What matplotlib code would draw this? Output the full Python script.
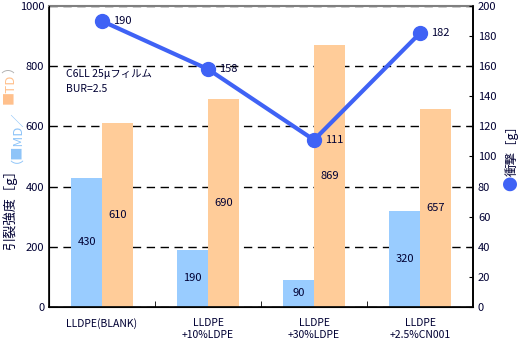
import numpy as np
import matplotlib
matplotlib.use('Agg')
import matplotlib.pyplot as plt

plt.rcParams['font.family'] = ['Noto Sans CJK JP', 'DejaVu Sans']

# data
categories = ['LLDPE(BLANK)', 'LLDPE\n+10%LDPE', 'LLDPE\n+30%LDPE', 'LLDPE\n+2.5%CN001']
md_values = [430, 190, 90, 320]
td_values = [610, 690, 869, 657]
impact_values = [190, 158, 111, 182]

md_color = '#99CCFF'
td_color = '#FFCC99'
line_color = '#3F62F5'
text_color = '#000033'

fig = plt.figure(figsize=(5.22, 3.44), dpi=100)
ax = fig.add_axes([0.0939, 0.1076, 0.8123, 0.875])

x = np.arange(len(categories))
w = 0.29
ax.set_axisbelow(True)
ax.bar(x - w / 2, md_values, w, color=md_color, zorder=2)
ax.bar(x + w / 2, td_values, w, color=td_color, zorder=2)

for xi, v in zip(x, md_values):
    ax.text(xi - w / 2, v / 2, str(v), ha='center', va='center', fontsize=8, color=text_color, zorder=3)
for xi, v in zip(x, td_values):
    ax.text(xi + w / 2, v / 2, str(v), ha='center', va='center', fontsize=8, color=text_color, zorder=3)

ax.set_xlim(-0.5, 3.5)
ax.set_ylim(0, 1000)
ax.set_yticks(range(0, 1001, 200))
ax.set_xticks(x)
ax.set_xticklabels(categories, fontsize=7.5, color=text_color)
ax.set_xticks(np.arange(0.5, 3.5, 1), minor=True)
ax.tick_params(axis='x', which='major', length=0, pad=8)
ax.tick_params(axis='x', which='minor', direction='in', length=4)
ax.tick_params(axis='y', direction='in', length=0, labelsize=8, labelcolor=text_color)
ax.yaxis.grid(True, linestyle=(0, (6, 4)), color='black', linewidth=1)
ax.spines['top'].set_color('#808080')
ax.spines['top'].set_linewidth(1.5)
for s in ['left', 'bottom', 'right']:
    ax.spines[s].set_linewidth(1.2)

ax.text(0.04, 0.79, 'C6LL 25μフィルム\nBUR=2.5', transform=ax.transAxes, fontsize=7.5,
        color=text_color, va='top', linespacing=1.6)

ax2 = ax.twinx()
ax2.plot(x, impact_values, color=line_color, linewidth=3, marker='o', markersize=10, zorder=5)
for xi, v in zip(x, impact_values):
    ax2.text(xi + 0.1, v, str(v), ha='left', va='center', fontsize=8, color=text_color)
ax2.set_ylim(0, 200)
ax2.set_yticks(range(0, 201, 20))
ax2.tick_params(axis='y', direction='in', length=3, labelsize=8, labelcolor=text_color)
ax2.spines['top'].set_visible(False)
ax2.spines['right'].set_linewidth(1.2)

# multicolor vertical labels, placed bottom to top
renderer = fig.canvas.get_renderer()


def vlabel(parts, xpx, ycenter_px):
    texts = []
    total = 0
    for t, c, size in parts:
        tx = fig.text(0, 0, t, color=c, fontsize=size, rotation=90, ha='center', va='bottom')
        h = tx.get_window_extent(renderer).height
        texts.append((tx, h))
        total += h
    y = ycenter_px - total / 2
    for tx, h in texts:
        tx.set_position((xpx / fig.bbox.width, y / fig.bbox.height))
        y += h


vlabel([('引裂強度［g］', text_color, 9.5), ('（■MD／', '#8EC4F8', 9.5),
        ('■TD', '#FFC08C', 9.5), ('）', '#B0B0B0', 9.5)], 10, 344 - 155)
vlabel([('●', line_color, 11), ('衝撃［g］', text_color, 9)], 512, 344 - 155)

fig.savefig('out.png', dpi=100)
